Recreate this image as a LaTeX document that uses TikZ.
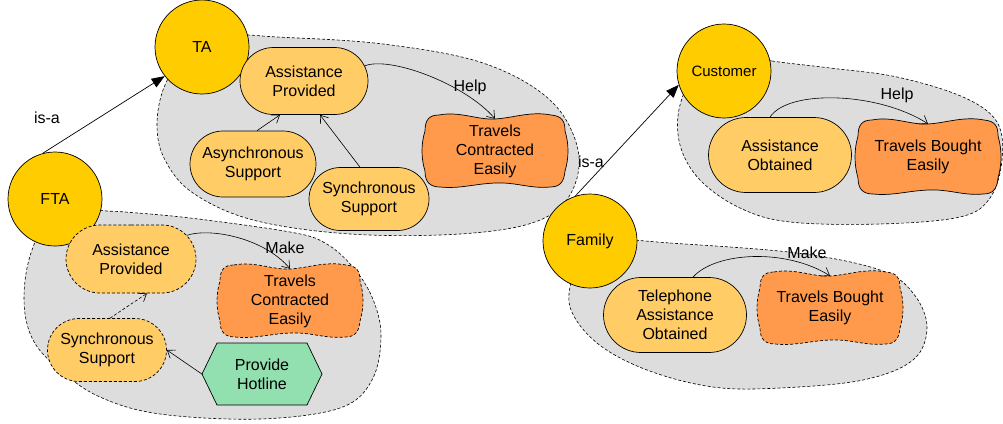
\documentclass[tikz,border=0pt]{standalone}
\usepackage{fontspec}
\setmainfont{Liberation Sans}
\usetikzlibrary{arrows.meta,shapes.misc,calc}
\definecolor{circY}{HTML}{FFCC00}
\definecolor{stadY}{HTML}{FFCC66}
\definecolor{wavO}{HTML}{FF9A4D}
\definecolor{hexG}{HTML}{92E0B0}
\definecolor{blobG}{HTML}{DDDDDD}
% wavy (banner-like) outline: cx, cy, half width, half height, style
\newcommand\wavyoutline[5]{%
  \draw[#5] (#1-#3+15,#2-#4)
    .. controls (#1-0.5*#3,#2-#4-4) and (#1-0.25*#3,#2-#4+5) .. (#1,#2-#4+4)
    .. controls (#1+0.25*#3,#2-#4+3) and (#1+0.5*#3,#2-#4-4) .. (#1+#3-15,#2-#4)
    .. controls (#1+#3-4,#2-#4+1) and (#1+#3-1,#2-#4+6) .. (#1+#3-1,#2-#4+16)
    .. controls (#1+#3+3,#2-0.2*#4) and (#1+#3+3,#2+0.2*#4) .. (#1+#3-1,#2+#4-16)
    .. controls (#1+#3-2,#2+#4-5) and (#1+#3-6,#2+#4) .. (#1+#3-16,#2+#4)
    .. controls (#1+0.5*#3,#2+#4+2) and (#1+0.3*#3,#2+#4-5) .. (#1,#2+#4-4)
    .. controls (#1-0.3*#3,#2+#4-3) and (#1-0.5*#3,#2+#4+2) .. (#1-#3+16,#2+#4)
    .. controls (#1-#3+6,#2+#4) and (#1-#3+1,#2+#4-5) .. (#1-#3+1,#2+#4-16)
    .. controls (#1-#3-3,#2+0.2*#4) and (#1-#3-3,#2-0.2*#4) .. (#1-#3+1,#2-#4+16)
    .. controls (#1-#3+1,#2-#4+5) and (#1-#3+5,#2-#4) .. (#1-#3+15,#2-#4) -- cycle;}
\begin{document}
\begin{tikzpicture}[x=1pt,y=-1pt,
  font=\fontsize{16}{19}\selectfont,
  circ/.style={circle, draw, fill=circY, minimum size=94pt, inner sep=0pt, line width=0.7pt},
  stad/.style={rounded rectangle, draw, fill=stadY, align=center, inner sep=0pt, line width=0.7pt},
  dsh/.style={dash pattern=on 3pt off 2pt},
  blob/.style={fill=blobG, draw, dsh, line width=0.6pt},
  wav/.style={fill=wavO, draw, line width=0.7pt},
  txt/.style={align=center, inner sep=0pt, minimum width=130pt},
  lbl/.style={inner sep=0pt},
  open/.style={-{Straight Barb[length=7pt,width=10pt]}, line width=0.6pt},
  isa/.style={-{Triangle[length=13pt,width=10pt]}, line width=0.7pt}]
\useasboundingbox (0,0) rectangle (1003,423);

% blobs
\path[blob] plot[smooth cycle, tension=0.6] coordinates {(235,36) (277,37) (383,44) (483,63) (550,100) (578,150) (570,195) (535,222) (460,234) (350,234) (253,220) (193,193) (165,160) (157,125) (165,85) (190,50)};
\path[blob] plot[smooth cycle, tension=0.6] coordinates {(60,200) (100,210) (125,212) (190,218) (290,232) (325,243) (352,266) (372,297) (381,335) (372,380) (340,408) (260,419) (160,414) (100,397) (60,370) (33,340) (24,300) (32,250)};
\path[blob] plot[smooth cycle, tension=0.6] coordinates {(745,55) (772,61) (830,68) (897,77) (963,97) (997,122) (1002,160) (990,198) (960,217) (880,224) (790,222) (740,208) (700,180) (680,145) (680,105) (700,70)};
\path[blob] plot[smooth cycle, tension=0.6] coordinates {(615,240) (670,243) (797,253) (880,270) (913,293) (927,327) (913,360) (863,380) (780,388) (713,387) (647,370) (597,343) (570,307) (575,270) (590,250)};

% actors
\node[circ] (TA) at (202,47) {TA};
\node[circ] (FTA) at (55,199) {FTA};
\node[circ, font=\fontsize{15}{18}\selectfont] (Cust) at (724,71) {Customer};
\node[circ] (Fam) at (590,241) {Family};

% TA elements
\node[stad, minimum width=128pt, minimum height=67pt] (apTA) at (304,81) {Assistance\\Provided};
\node[stad, minimum width=126pt, minimum height=66pt] (asTA) at (253,164) {Asynchronous\\Support};
\node[stad, minimum width=120pt, minimum height=63pt] (ssTA) at (369,199) {Synchronous\\Support};
\wavyoutline{495}{151}{71}{36}{wav}
\node[txt, minimum height=64pt] (tcTA) at (495,151) {Travels\\Contracted\\Easily};

% FTA elements
\node[stad, dsh, minimum width=130pt, minimum height=68pt] (apF) at (131,259) {Assistance\\Provided};
\wavyoutline{290}{301}{71}{36}{wav, dsh}
\node[txt, minimum height=64pt] (tcF) at (290,301) {Travels\\Contracted\\Easily};
\node[stad, dsh, minimum width=119pt, minimum height=63pt] (ssF) at (107,350) {Synchronous\\Support};
\draw[fill=hexG, line width=0.7pt] (202,374) -- (217,343) -- (307,343) -- (322,374) -- (307,405) -- (217,405) -- cycle;
\node[txt, minimum width=120pt, minimum height=62pt] (hot) at (262,374) {Provide\\Hotline};

% Customer elements
\node[stad, minimum width=143pt, minimum height=75pt] (aoC) at (780,155) {Assistance\\Obtained};
\wavyoutline{928}{157}{71}{37}{wav}
\node[txt, minimum height=66pt] (tbC) at (928,157) {Travels Bought\\Easily};

% Family elements
\node[stad, minimum width=143pt, minimum height=75pt] (taF) at (675,315) {Telephone\\Assistance\\Obtained};
\wavyoutline{830}{308}{71}{36}{wav, dsh}
\node[txt, minimum height=64pt] (tbF) at (830,308) {Travels Bought\\Easily};

% connectors
\draw[isa] (FTA.105) -- (TA.218);
\draw[isa] (Fam.108) -- (Cust.197);
\node[lbl] (isa1) at (47,118) {is-a};
\node[lbl] (isa2) at (591,162) {is-a};

\draw[open] ($(asTA.north)+(4,0)$) -- ($(apTA.south)+(-24,0)$);
\draw[open] ($(ssTA.north)+(-9,0)$) -- ($(apTA.south)+(16,0)$);
\draw[open] (apTA.14) .. controls +(25,-10) and +(-30,-35) .. (tcTA.north);
\node[lbl] (help1) at (470,87) {Help};

\draw[open] (apF.23) .. controls +(25,-8) and +(-25,-30) .. (tcF.north);
\node[lbl] (make1) at (285,248) {Make};
\draw[open, dsh] ($(ssF.north)+(3,0)$) -- ($(apF.south)+(16,0)$);
\draw[open] (hot.west) -- (ssF.east);

\draw[open] ($(aoC.north)+(-10,0)$) .. controls +(18,-28) and +(-50,-32) .. (tbC.north);
\node[lbl] (help2) at (897,95) {Help};

\draw[open] ($(taF.north)+(18,0)$) .. controls +(22,-25) and +(-45,-28) .. (tbF.north);
\node[lbl] (make2) at (807,253) {Make};
\end{tikzpicture}
\end{document}
